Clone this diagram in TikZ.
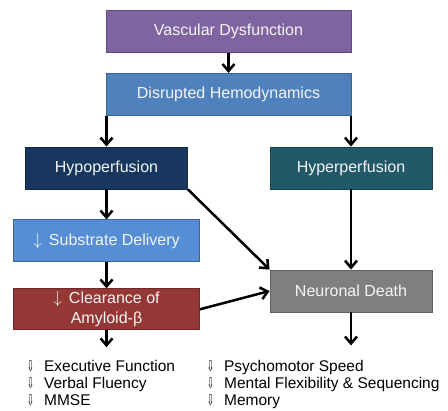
\documentclass[tikz,border=0pt]{standalone}
\usepackage{fontspec}
\setmainfont{Liberation Sans}
\newfontfamily\symfont{DejaVu Sans}
\usetikzlibrary{positioning, arrows.meta, calc}

\definecolor{vdpurple}{HTML}{8064A2}
\definecolor{dhblue}{HTML}{4F81BD}
\definecolor{hoblue}{HTML}{17375E}
\definecolor{hiteal}{HTML}{215968}
\definecolor{sdblue}{HTML}{558ED5}
\definecolor{clred}{HTML}{953735}
\definecolor{ndgray}{HTML}{7F7F7F}

\newcommand{\lessarrow}{{\symfont\fontsize{15}{15}\selectfont\scalebox{0.55}[1]{⇩}}\hspace{10pt}}

\begin{document}
\begin{tikzpicture}[
  x=1pt, y=-1pt,
  font=\fontsize{16}{18}\selectfont,
  box/.style={draw, line width=0.9pt, text=white!96!black, align=center, inner sep=0pt, minimum height=42pt},
  wide/.style={box, minimum width=245pt},
  mid/.style={box, minimum width=162pt},
  side/.style={box, minimum width=186pt},
  item/.style={anchor=base west, inner sep=0pt, font=\fontsize{15.5}{17}\selectfont},
  arr/.style={-{Straight Barb[length=7pt, width=12pt, line width=2.5pt]}, line width=2.5pt},
]
\useasboundingbox (0,0) rectangle (448,411);

% ---- top chain ----
\node[wide, fill=vdpurple, draw=vdpurple!75!black] (vd) at (228.5,31.5) {Vascular Dysfunction};
\node[wide, fill=dhblue, draw=dhblue!75!black, below=20pt of vd] (dh) {Disrupted Hemodynamics};

% ---- perfusion branches ----
\node[mid, fill=hoblue, draw=hoblue!75!black] (hypo) at (106.5,168) {Hypoperfusion};
\node[mid, fill=hiteal, draw=hiteal!75!black] (hyper) at (351,168) {Hyperperfusion};

% ---- left column ----
\node[side, fill=sdblue, draw=sdblue!70!black, below=30pt of hypo] (sd) {$\downarrow$\hspace{7pt}Substrate Delivery};
\node[side, fill=clred, draw=clred!75!black, minimum height=41pt, below=26pt of sd, font=\fontsize{16}{19.5}\selectfont] (cl) {$\downarrow$\hspace{7pt}Clearance of\\Amyloid-β};

% ---- outcome ----
\node[mid, fill=ndgray, draw=ndgray!75!black] (nd) at (351,291) {Neuronal Death};

\draw[arr] (vd) -- (dh);
\draw[arr] (dh.south -| hypo.north) -- (hypo.north);
\draw[arr] (dh.south -| hyper.north) -- (hyper.north);
\draw[arr] (hypo) -- (sd);
\draw[arr] (sd) -- (cl);
\draw[arr] (hypo.south east) -- (nd.north west);
\draw[arr] (hyper) -- (nd);
\draw[arr] (cl.east) -- (nd.west);

% ---- deficits ----
\coordinate (clend) at ($(cl.south)+(0,17)$);
\coordinate (ndend) at ($(nd.south)+(0,33)$);
\draw[arr] (cl.south) -- (clend);
\draw[arr] (nd.south) -- (ndend);

\node[item] (exec) at (27,372) {\lessarrow Executive Function};
\node[item] (verb) at (27,389) {\lessarrow Verbal Fluency};
\node[item] (mmse) at (27,406) {\lessarrow MMSE};
\node[item] (psy) at (207,372) {\lessarrow Psychomotor Speed};
\node[item] (flex) at (207,389) {\lessarrow Mental Flexibility \& Sequencing};
\node[item] (mem) at (207,406) {\lessarrow Memory};

\end{tikzpicture}
\end{document}
